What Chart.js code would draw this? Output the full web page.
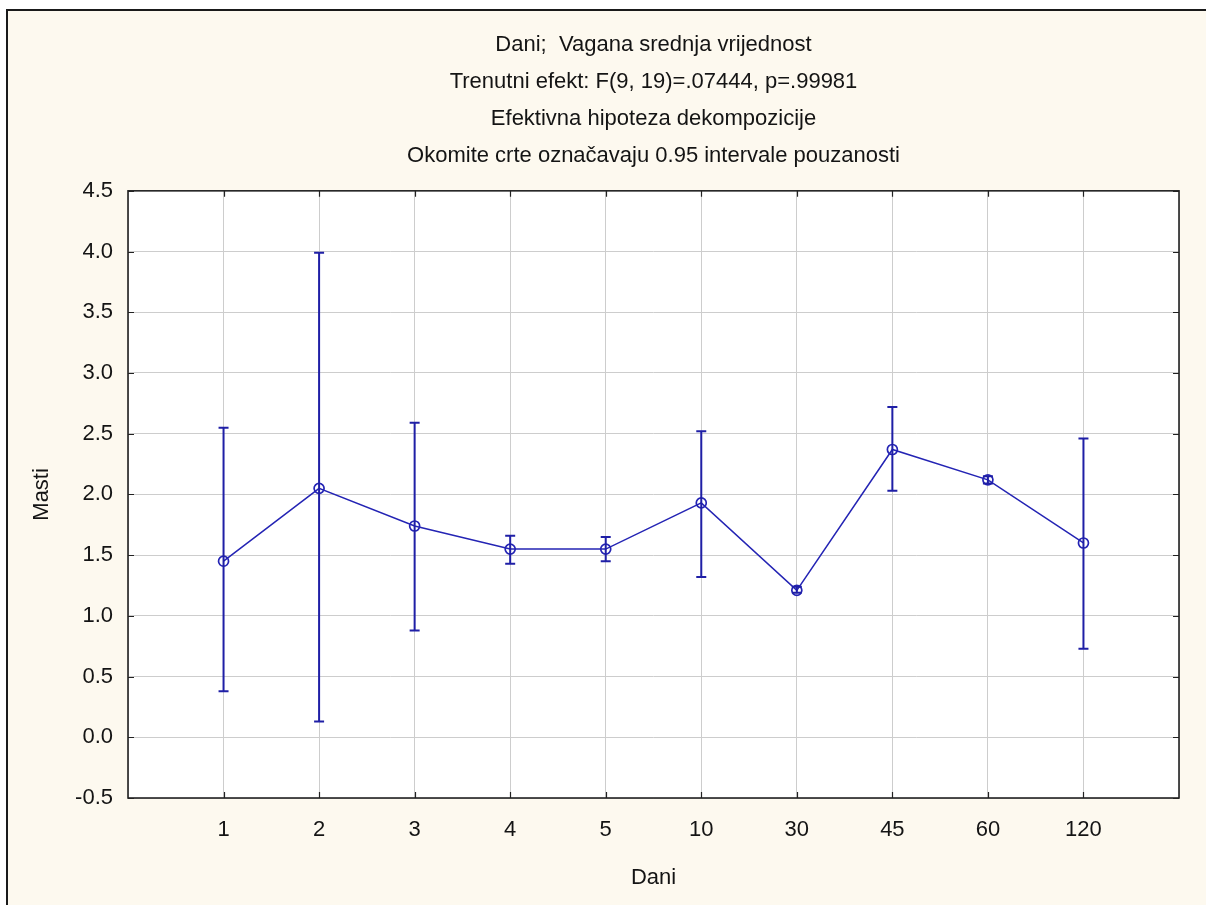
<!DOCTYPE html>
<html>
<head>
<meta charset="utf-8">
<script src="https://cdn.jsdelivr.net/npm/chart.js@4.4.0/dist/chart.umd.min.js"></script>
<style>
  html, body { margin: 0; padding: 0; background: #ffffff; }
  #wrap { position: absolute; left: 0; top: 0; width: 1206px; height: 905px; }
</style>
</head>
<body>
<div id="wrap"><canvas id="chart" width="1206" height="905"></canvas></div>
<script>
// Dani (days) and weighted means of Masti with 0.95 confidence limits
const dayLabels = ['1', '2', '3', '4', '5', '10', '30', '45', '60', '120'];
const meanValues = [1.45, 2.05, 1.74, 1.55, 1.55, 1.93, 1.21, 2.37, 2.12, 1.60];
const upperValues = [2.55, 3.99, 2.59, 1.66, 1.65, 2.52, 1.24, 2.72, 2.15, 2.46];
const lowerValues = [0.38, 0.13, 0.88, 1.43, 1.45, 1.32, 1.19, 2.03, 2.09, 0.73];
const titleLines = [
  'Dani;  Vagana srednja vrijednost',
  'Trenutni efekt: F(9, 19)=.07444, p=.99981',
  'Efektivna hipoteza dekompozicije',
  'Okomite crte označavaju 0.95 intervale pouzanosti'
];

const FONT = '"Liberation Sans", Arial, sans-serif';
const TEXT = '#141414';
const BLUE = '#2424b4';
const BAR_BLUE = '#1f1fa6';
const FRAME = '#222222';

// background: white page, beige panel with left/top border, white plot area
const backgroundPlugin = {
  id: 'background',
  beforeDraw(chart) {
    const { ctx, chartArea: a, width, height } = chart;
    ctx.save();
    ctx.fillStyle = '#ffffff';
    ctx.fillRect(0, 0, width, height);
    ctx.fillStyle = '#fdf9ef';
    ctx.fillRect(6, 9, width - 6, height - 9);
    ctx.strokeStyle = '#1a1a1a';
    ctx.lineWidth = 2;
    ctx.beginPath();
    ctx.moveTo(7, height);
    ctx.lineTo(7, 10);
    ctx.lineTo(width, 10);
    ctx.stroke();
    ctx.fillStyle = '#ffffff';
    ctx.fillRect(a.left, a.top, a.right - a.left, a.bottom - a.top);
    ctx.restore();
  }
};

// plot frame with inward tick marks on all four sides
const framePlugin = {
  id: 'frame',
  afterDraw(chart) {
    const { ctx, chartArea: a, scales } = chart;
    const len = 6;
    ctx.save();
    ctx.strokeStyle = FRAME;
    ctx.lineWidth = 1.6;
    ctx.strokeRect(a.left, a.top, a.right - a.left, a.bottom - a.top);
    ctx.lineWidth = 1.2;
    ctx.beginPath();
    scales.x.ticks.forEach(t => {
      if (t.value <= 0 || t.value >= 11) return;
      const x = Math.round(scales.x.getPixelForValue(t.value)) + 0.5;
      ctx.moveTo(x, a.bottom); ctx.lineTo(x, a.bottom - len);
      ctx.moveTo(x, a.top); ctx.lineTo(x, a.top + len);
    });
    scales.y.ticks.forEach(t => {
      const y = Math.round(scales.y.getPixelForValue(t.value)) + 0.5;
      ctx.moveTo(a.left, y); ctx.lineTo(a.left + len, y);
      ctx.moveTo(a.right, y); ctx.lineTo(a.right - len, y);
    });
    ctx.stroke();
    ctx.restore();
  }
};

// vertical confidence interval bars with caps
const errorBarPlugin = {
  id: 'errorBars',
  afterDatasetsDraw(chart) {
    const { ctx, scales } = chart;
    const meta = chart.getDatasetMeta(0);
    const cap = 5;
    ctx.save();
    ctx.strokeStyle = BAR_BLUE;
    ctx.lineWidth = 2;
    meta.data.forEach((pt, i) => {
      const x = pt.x;
      const yTop = scales.y.getPixelForValue(upperValues[i]);
      const yBot = scales.y.getPixelForValue(lowerValues[i]);
      ctx.beginPath();
      ctx.moveTo(x, yTop); ctx.lineTo(x, yBot);
      ctx.moveTo(x - cap, yTop); ctx.lineTo(x + cap, yTop);
      ctx.moveTo(x - cap, yBot); ctx.lineTo(x + cap, yBot);
      ctx.stroke();
    });
    ctx.restore();
  }
};

const chartData = {
  datasets: [
    {
      label: 'Masti',
      data: meanValues.map((v, i) => ({ x: i + 1, y: v })),
      borderColor: BLUE,
      borderWidth: 1.5,
      pointStyle: 'circle',
      pointRadius: 5,
      pointBorderWidth: 1.7,
      pointBorderColor: BLUE,
      pointBackgroundColor: 'rgba(0,0,0,0)',
      tension: 0
    }
  ]
};

const chartOptions = {
  responsive: false,
  animation: false,
  devicePixelRatio: 1,
  layout: { padding: { left: 0, right: 27, top: 0, bottom: 0 } },
  plugins: {
    legend: { display: false },
    tooltip: { enabled: false },
    title: {
      display: true,
      fullSize: false,
      text: titleLines,
      color: TEXT,
      font: { family: FONT, size: 22, weight: 'normal', lineHeight: 1.68 },
      padding: { top: 26.5, bottom: 16.5 }
    }
  },
  scales: {
    x: {
      type: 'linear',
      min: 0,
      max: 11,
      afterFit(scale) { scale.height = 107; },
      grid: { color: '#cdcdcd', lineWidth: 1, drawTicks: false },
      border: { display: false },
      ticks: {
        stepSize: 1,
        autoSkip: false,
        maxRotation: 0,
        padding: 19,
        color: TEXT,
        font: { family: FONT, size: 22 },
        callback: (v) => dayLabels[v - 1] || ''
      },
      title: {
        display: true,
        text: 'Dani',
        color: TEXT,
        font: { family: FONT, size: 22 },
        padding: { top: 0, bottom: 14 }
      }
    },
    y: {
      min: -0.5,
      max: 4.5,
      afterFit(scale) { scale.width = 128; },
      grid: { color: '#cdcdcd', lineWidth: 1, drawTicks: false },
      border: { display: false },
      ticks: {
        stepSize: 0.5,
        padding: 15,
        color: TEXT,
        font: { family: FONT, size: 22 },
        callback: (v) => Number(v).toFixed(1)
      },
      title: {
        display: true,
        text: 'Masti',
        color: TEXT,
        font: { family: FONT, size: 22 },
        padding: { top: 28.5, bottom: 0 }
      }
    }
  }
};

new Chart(document.getElementById('chart'), {
  type: 'line',
  data: chartData,
  options: chartOptions,
  plugins: [backgroundPlugin, errorBarPlugin, framePlugin]
});
</script>
</body>
</html>
